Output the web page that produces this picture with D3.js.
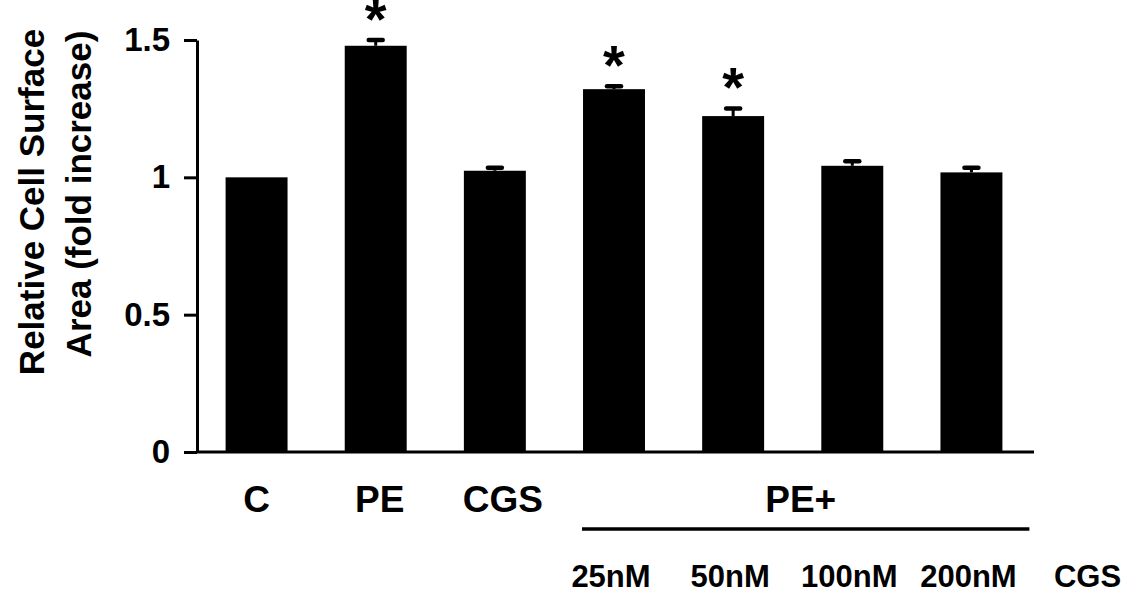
<!DOCTYPE html>
<html>
<head>
<meta charset="utf-8">
<script src="https://cdn.jsdelivr.net/npm/d3@7"></script>
<style>
    body { margin: 0; background: #fff; }
    text { font-family: "Liberation Sans", Arial, sans-serif; font-weight: bold; fill: #000; }
</style>
</head>
<body>
<svg id="canvas"></svg>
<script>
// ---------------- datos ----------------
let groups = ['C', 'PE', 'CGS', '25nM', '50nM', '100nM', '200nM']
let means = [1.0, 1.479, 1.024, 1.321, 1.223, 1.042, 1.018]
let errors = [0, 0.021, 0.011, 0.011, 0.028, 0.017, 0.017]
let signif = [false, true, false, true, true, false, false]
let topLabels = ['C', 'PE', 'CGS']
let doseLabels = ['25nM', '50nM', '100nM', '200nM']
let yTicks = [0, 0.5, 1, 1.5]
let yTitle = ['Relative Cell Surface', 'Area (fold increase)']

let width = 1135
let height = 596

let canvas = d3.select('#canvas')
    .attr('width', width)
    .attr('height', height)

let values = groups.map((g, i) => ({ group: g, mean: means[i], err: errors[i], star: signif[i] }))

let xScale = d3.scaleBand()
    .domain(groups)
    .range([197, 1031])
    .paddingInner(0.48)
    .paddingOuter(0.24)

let yScale = d3.scaleLinear()
    .domain([0, 1.5])
    .range([452, 40])

let bw = xScale.bandwidth()
let cx = (g) => xScale(g) + bw / 2

// barras
canvas.selectAll('rect.bar')
    .data(values)
    .enter()
    .append('rect')
    .attr('class', 'bar')
    .attr('x', d => xScale(d.group))
    .attr('y', d => yScale(d.mean))
    .attr('width', bw)
    .attr('height', d => yScale(0) - yScale(d.mean))
    .attr('fill', '#000')

// barras de error (solo hacia arriba)
let withErr = values.filter(d => d.err > 0)
canvas.selectAll('line.stem')
    .data(withErr)
    .enter()
    .append('line')
    .attr('x1', d => cx(d.group))
    .attr('x2', d => cx(d.group))
    .attr('y1', d => yScale(d.mean))
    .attr('y2', d => yScale(d.mean + d.err))
    .attr('stroke', '#000')
    .attr('stroke-width', 3)

canvas.selectAll('line.cap')
    .data(withErr)
    .enter()
    .append('line')
    .attr('x1', d => cx(d.group) - 7)
    .attr('x2', d => cx(d.group) + 7)
    .attr('y1', d => yScale(d.mean + d.err))
    .attr('y2', d => yScale(d.mean + d.err))
    .attr('stroke', '#000')
    .attr('stroke-width', 4.5)
    .attr('stroke-linecap', 'round')

// asteriscos
canvas.selectAll('text.star')
    .data(values.filter(d => d.star))
    .enter()
    .append('text')
    .attr('x', d => cx(d.group))
    .attr('y', d => yScale(d.mean + d.err) - 2)
    .attr('text-anchor', 'middle')
    .style('font-size', '56px')
    .text('*')

// eje y
let yAxis = d3.axisLeft(yScale)
    .tickValues(yTicks)
    .tickSize(13)
    .tickSizeOuter(0)
    .tickPadding(14)
    .tickFormat(d => String(d))

let gy = canvas.append('g')
    .attr('transform', 'translate(197, 0)')
    .call(yAxis)
gy.select('.domain').attr('stroke-width', 3)
gy.selectAll('.tick line').attr('stroke-width', 3)
gy.selectAll('.tick text')
    .style('font-size', '33px')
    .style('font-family', '"Liberation Sans", Arial, sans-serif')
    .style('font-weight', 'bold')

// eje x
canvas.append('line')
    .attr('x1', 197)
    .attr('x2', xScale.range()[1] + 3)
    .attr('y1', yScale(0))
    .attr('y2', yScale(0))
    .attr('stroke', '#000')
    .attr('stroke-width', 3)

// etiquetas de categorias
canvas.selectAll('text.cat')
    .data(topLabels)
    .enter()
    .append('text')
    .attr('x', (d, i) => cx(d) + i * 4)
    .attr('y', 512)
    .attr('text-anchor', 'middle')
    .style('font-size', '37px')
    .text(d => d)

let bracketX1 = xScale(doseLabels[0]) - 1
let bracketX2 = xScale(doseLabels[doseLabels.length - 1]) + bw + 27

canvas.append('text')
    .attr('x', (bracketX1 + bracketX2) / 2 - 5)
    .attr('y', 512)
    .attr('text-anchor', 'middle')
    .style('font-size', '37px')
    .text('PE+')

canvas.append('line')
    .attr('x1', bracketX1)
    .attr('x2', bracketX2)
    .attr('y1', 529)
    .attr('y2', 529)
    .attr('stroke', '#000')
    .attr('stroke-width', 3.5)

canvas.selectAll('text.dose')
    .data(doseLabels.concat(['CGS']))
    .enter()
    .append('text')
    .attr('x', (d, i) => cx(doseLabels[0]) - 3 + i * xScale.step())
    .attr('y', 587)
    .attr('text-anchor', 'middle')
    .style('font-size', '31px')
    .text(d => d)

// titulo eje y
canvas.selectAll('text.ytitle')
    .data(yTitle)
    .enter()
    .append('text')
    .attr('transform', (d, i) => 'translate(' + (44 + i * 47) + ', ' + (202 - i * 8) + ') rotate(-90)')
    .attr('text-anchor', 'middle')
    .style('font-size', '35px')
    .text(d => d)
</script>
</body>
</html>
